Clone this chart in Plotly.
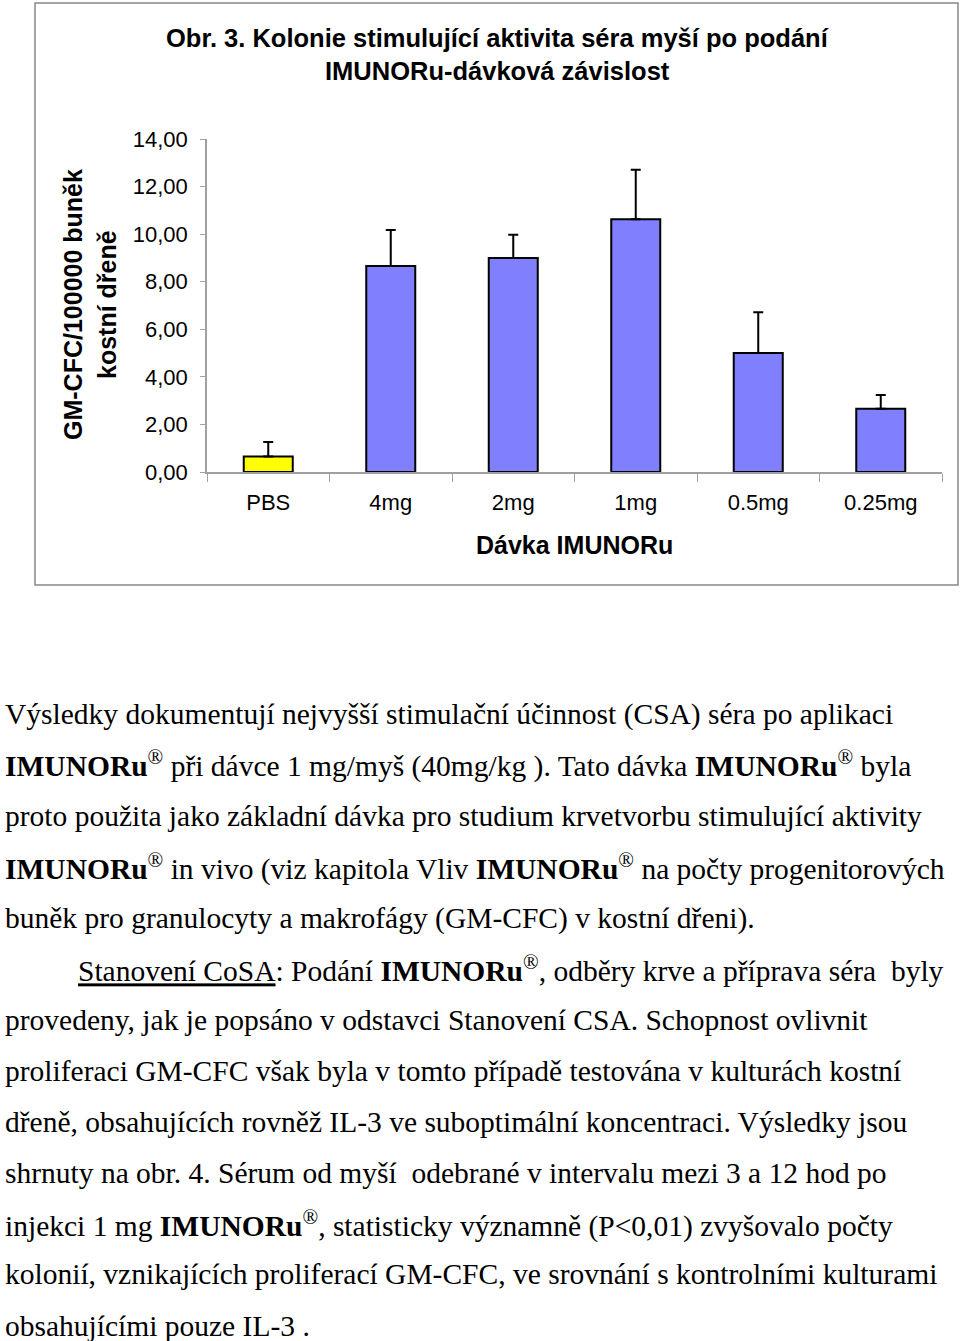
import plotly.graph_objects as go

categories = ["PBS", "4mg", "2mg", "1mg", "0.5mg", "0.25mg"]
means = [0.65, 8.66, 9.0, 10.63, 5.0, 2.66]
errors = [0.61, 1.51, 0.97, 2.08, 1.72, 0.58]
bar_colors = ["#FFFF00", "#8080FF", "#8080FF", "#8080FF", "#8080FF", "#8080FF"]
y_ticks = [0, 2, 4, 6, 8, 10, 12, 14]

title_lines = ["Obr. 3. Kolonie stimulující aktivita séra myší po podání",
               "IMUNORu-dávková závislost"]
y_title_lines = ["GM-CFC/100000 buněk", "kostní dřeně"]
x_title = "Dávka IMUNORu"

R = "<b>IMUNORu</b><sup>®</sup>"
body_lines = [
    "Výsledky dokumentují nejvyšší stimulační účinnost (CSA) séra po aplikaci",
    R + " při dávce 1 mg/myš (40mg/kg ). Tato dávka " + R + " byla",
    "proto použita jako základní dávka pro studium krvetvorbu stimulující aktivity",
    R + " in vivo (viz kapitola Vliv " + R + " na počty progenitorových",
    "buněk pro granulocyty a makrofágy (GM-CFC) v kostní dřeni).",
    "<u>Stanovení CoSA</u>: Podání " + R + ", odběry krve a příprava séra  byly",
    "provedeny, jak je popsáno v odstavci Stanovení CSA. Schopnost ovlivnit",
    "proliferaci GM-CFC však byla v tomto případě testována v kulturách kostní",
    "dřeně, obsahujících rovněž IL-3 ve suboptimální koncentraci. Výsledky jsou",
    "shrnuty na obr. 4. Sérum od myší  odebrané v intervalu mezi 3 a 12 hod po",
    "injekci 1 mg " + R + ", statisticky významně (P<0,01) zvyšovalo počty",
    "kolonií, vznikajících proliferací GM-CFC, ve srovnání s kontrolními kulturami",
    "obsahujícími pouze IL-3 .",
]
body_y = [714, 765, 816, 867, 918, 969, 1020, 1071, 1122, 1173, 1224, 1274, 1326]
body_x = [3, 3, 3, 3, 3, 76, 3, 3, 3, 3, 3, 3, 3]

W, H = 960, 1341
def py(p):
    return 1 - p / H
def px(p):
    return p / W

fig = go.Figure()
fig.add_trace(go.Bar(
    x=categories, y=means, width=0.4,
    marker=dict(color=bar_colors, line=dict(color="black", width=2)),
    error_y=dict(type="data", array=errors, arrayminus=[0] * len(errors),
                 symmetric=False, color="black", thickness=2, width=5),
))

ann = []
for i, t in enumerate(title_lines):
    ann.append(dict(text="<b>" + t + "</b>", x=px(497), y=py(38 + 33 * i),
                    xref="paper", yref="paper", showarrow=False,
                    xanchor="center", yanchor="middle",
                    font=dict(family="Liberation Sans", size=25.5, color="black")))
for i, t in enumerate(y_title_lines):
    ann.append(dict(text="<b>" + t + "</b>", x=px(73 + 34 * i), y=py(305),
                    xref="paper", yref="paper", showarrow=False, textangle=-90,
                    xanchor="center", yanchor="middle",
                    font=dict(family="Liberation Sans", size=25, color="black")))
ann.append(dict(text="<b>" + x_title + "</b>", x=px(574), y=py(545),
                xref="paper", yref="paper", showarrow=False,
                xanchor="center", yanchor="middle",
                font=dict(family="Liberation Sans", size=25, color="black")))
for t, x0, y0 in zip(body_lines, body_x, body_y):
    ann.append(dict(text=t, x=px(x0), y=py(y0), xref="paper", yref="paper",
                    showarrow=False, xanchor="left", yanchor="middle",
                    font=dict(family="Liberation Serif", size=29.5, color="black")))

fig.update_layout(
    width=W, height=H, margin=dict(l=0, r=0, t=0, b=0, autoexpand=False),
    paper_bgcolor="white", plot_bgcolor="white", showlegend=False,
    separators=",.",
    annotations=ann,
    shapes=[dict(type="rect", xref="paper", yref="paper",
                 x0=px(35), x1=px(958), y0=py(585), y1=py(3),
                 line=dict(color="#888888", width=1.5))],
    xaxis=dict(domain=[px(207), px(942)], showline=True, linecolor="#A0A0A0",
               linewidth=1.5, ticks="outside", tickson="boundaries", ticklen=8,
               tickcolor="#A0A0A0", showgrid=False, ticklabelstandoff=10,
               automargin=False,
               tickfont=dict(family="Liberation Sans", size=22, color="black")),
    yaxis=dict(domain=[py(472), py(139)], range=[0, 14], tickvals=y_ticks,
               tickformat=".2f", showline=True, linecolor="#A0A0A0", linewidth=1.5,
               ticks="outside", ticklen=5, tickcolor="#A0A0A0", showgrid=False,
               zeroline=False, ticklabelstandoff=8, automargin=False,
               tickfont=dict(family="Liberation Sans", size=22, color="black")),
)
fig.write_html("out.html", config={"displayModeBar": False},
               post_script="document.body.style.margin='0';document.body.style.overflow='hidden';")
